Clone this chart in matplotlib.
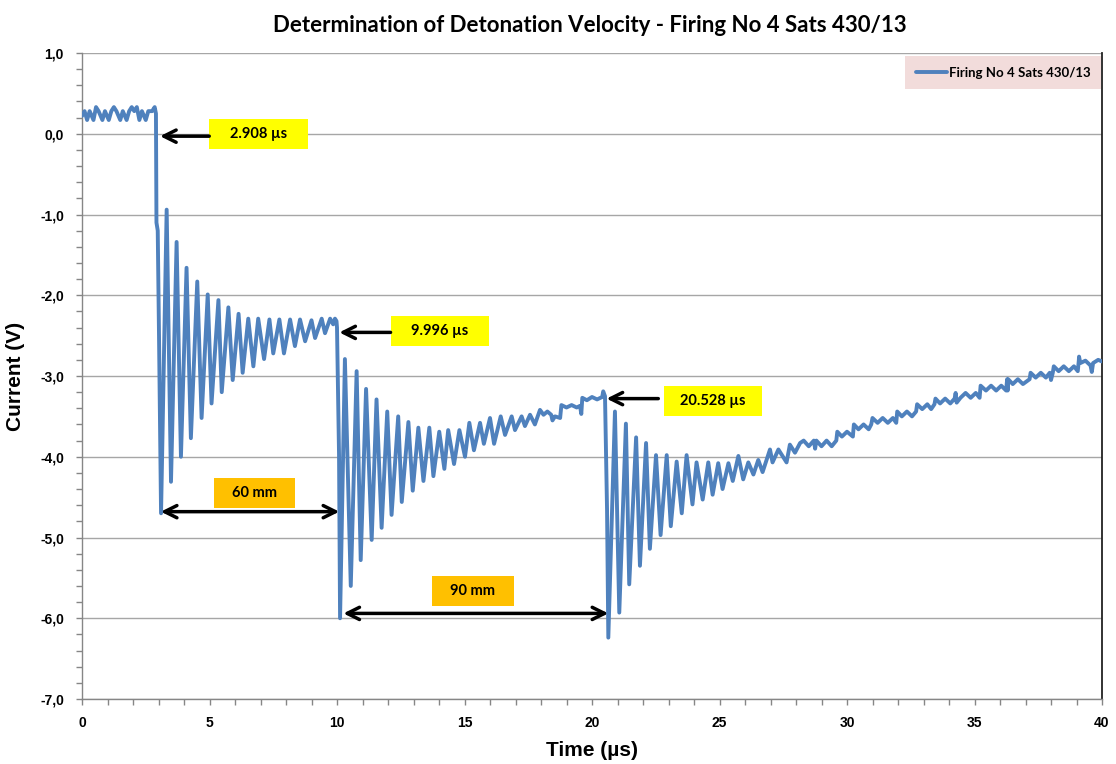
import numpy as np
import matplotlib
matplotlib.use("Agg")
import matplotlib.pyplot as plt
from matplotlib.patches import Rectangle

# ---------------- data ----------------
series_name = "Firing No 4 Sats 430/13"

t_base = [0.00, 0.10, 0.20, 0.30, 0.45, 0.55, 0.65, 0.80, 0.90, 1.05, 1.15, 1.25, 1.35, 1.50,
          1.60, 1.75, 1.85, 1.95, 2.05, 2.15, 2.25, 2.35, 2.50, 2.60, 2.75, 2.85, 2.90]
v_base = [0.22, 0.28, 0.17, 0.28, 0.17, 0.33, 0.28, 0.17, 0.28, 0.17, 0.28, 0.33, 0.28, 0.17,
          0.28, 0.17, 0.28, 0.33, 0.28, 0.33, 0.17, 0.28, 0.17, 0.28, 0.28, 0.33, 0.25]

t_ring1 = [2.92, 2.97, 3.02, 3.10, 3.32, 3.49, 3.71, 3.88, 4.10, 4.27, 4.52, 4.69, 4.93, 5.08,
           5.35, 5.48, 5.74, 5.91, 6.14, 6.30, 6.52, 6.72, 6.91, 7.14, 7.35, 7.50, 7.74, 7.92,
           8.16, 8.35, 8.55, 8.75, 9.00, 9.14, 9.40, 9.53, 9.73, 9.85, 9.92]
v_ring1 = [-1.10, -1.20, -2.50, -4.70, -0.94, -4.31, -1.34, -4.00, -1.66, -3.77, -1.83, -3.52,
           -1.99, -3.34, -2.06, -3.20, -2.15, -3.05, -2.23, -2.96, -2.29, -2.88, -2.29, -2.79,
           -2.30, -2.72, -2.30, -2.72, -2.30, -2.63, -2.30, -2.57, -2.31, -2.53, -2.29, -2.47,
           -2.29, -2.36, -2.29]

t_ring2 = [9.98, 10.00, 10.08, 10.12, 10.31, 10.54, 10.77, 10.93, 11.14, 11.36, 11.55, 11.75,
           11.97, 12.14, 12.40, 12.54, 12.80, 12.97, 13.19, 13.39, 13.62, 13.78, 14.01, 14.21,
           14.36, 14.59, 14.80, 15.02, 15.19, 15.37, 15.61, 15.76, 16.00, 16.16, 16.42, 16.59,
           16.85, 16.98, 17.24, 17.37, 17.57, 17.76, 17.96]
v_ring2 = [-2.32, -2.40, -3.98, -6.00, -2.79, -5.60, -2.94, -5.28, -3.16, -5.03, -3.29, -4.88,
           -3.44, -4.72, -3.50, -4.56, -3.57, -4.42, -3.64, -4.30, -3.64, -4.24, -3.69, -4.15,
           -3.67, -4.09, -3.67, -4.00, -3.58, -3.92, -3.58, -3.84, -3.52, -3.84, -3.50, -3.73,
           -3.50, -3.67, -3.50, -3.62, -3.48, -3.60, -3.42]

t_plateau = [18.10, 18.25, 18.40, 18.45, 18.55, 18.75, 18.80, 19.00, 19.20, 19.40, 19.53,
             19.58, 19.62, 19.80, 20.00, 20.20, 20.40, 20.44]
v_plateau = [-3.48, -3.44, -3.48, -3.55, -3.50, -3.52, -3.36, -3.39, -3.36, -3.39, -3.37,
             -3.47, -3.27, -3.30, -3.26, -3.29, -3.26, -3.19]

t_ring3 = [20.51, 20.59, 20.64, 20.90, 21.07, 21.33, 21.46, 21.73, 21.88, 22.12, 22.27, 22.51,
           22.69, 22.93, 23.09, 23.32, 23.52, 23.71, 23.94, 24.10, 24.34, 24.56, 24.73, 24.95,
           25.12, 25.35, 25.52, 25.74, 25.93, 26.13, 26.33, 26.52, 26.69, 26.98, 27.08, 27.31,
           27.63, 27.76, 27.96, 28.16]
v_ring3 = [-3.25, -4.66, -6.24, -3.44, -5.93, -3.59, -5.58, -3.76, -5.35, -3.83, -5.14, -3.98,
           -4.97, -3.98, -4.86, -4.06, -4.70, -3.98, -4.59, -4.07, -4.53, -4.07, -4.47, -4.08,
           -4.40, -4.08, -4.30, -3.99, -4.28, -4.07, -4.22, -4.04, -4.19, -3.91, -4.07, -3.91,
           -4.07, -3.85, -3.95, -3.83]

t_tail = [28.30, 28.50, 28.70, 28.75, 28.80, 29.00, 29.20, 29.40, 29.58,
          29.62, 29.80, 30.00, 30.23,
          30.27, 30.45, 30.65, 30.85, 30.95,
          31.00, 31.20, 31.40, 31.60, 31.80, 31.93,
          31.97, 32.15, 32.35, 32.55, 32.71,
          32.75, 32.95, 33.15, 33.30, 33.43,
          33.47, 33.65, 33.85, 34.05, 34.22,
          34.26, 34.30, 34.45, 34.65, 34.85, 35.05, 35.20,
          35.24, 35.45, 35.65, 35.85, 36.05, 36.24,
          36.28, 36.30, 36.32, 36.50, 36.70, 36.90, 37.16,
          37.20, 37.40, 37.60, 37.80, 37.95, 38.00, 38.07,
          38.11, 38.30, 38.50, 38.70, 38.90, 39.05,
          39.09, 39.10, 39.15, 39.35, 39.55, 39.60, 39.65, 39.85, 40.00]
v_tail = [-3.80, -3.87, -3.80, -3.90, -3.80, -3.87, -3.80, -3.87, -3.80,
          -3.69, -3.75, -3.69, -3.75,
          -3.60, -3.66, -3.60, -3.66, -3.60,
          -3.52, -3.58, -3.52, -3.58, -3.52, -3.58,
          -3.44, -3.50, -3.44, -3.50, -3.44,
          -3.35, -3.41, -3.35, -3.41, -3.35,
          -3.28, -3.34, -3.28, -3.34, -3.28,
          -3.21, -3.33, -3.27, -3.21, -3.27, -3.21, -3.27,
          -3.12, -3.18, -3.12, -3.18, -3.12, -3.18,
          -3.04, -3.18, -3.04, -3.10, -3.04, -3.10, -3.04,
          -2.96, -3.02, -2.96, -3.02, -2.96, -3.05, -2.96,
          -2.88, -2.94, -2.88, -2.94, -2.88, -2.94,
          -2.81, -2.76, -2.84, -2.81, -2.87, -2.95, -2.84, -2.80, -2.82]

# annotations
time_labels = ["2.908 µs", "9.996 µs", "20.528 µs"]
time_box_t = [6.92, 14.03, 24.75]
time_box_v = [0.0, -2.445, -3.315]
time_head_t = [3.06, 10.09, 20.57]
time_head_v = [-0.03, -2.46, -3.28]
time_tail_t = [4.99, 12.10, 22.60]

dist_labels = ["60 mm", "90 mm"]
dist_box_t = [6.77, 15.33]
dist_box_v = [-4.45, -5.665]
dist_left_t = [3.09, 10.25]
dist_right_t = [10.09, 20.64]
dist_arrow_v = [-4.68, -5.94]

x_ticks = [0, 5, 10, 15, 20, 25, 30, 35, 40]
y_ticks = [1.0, 0.0, -1.0, -2.0, -3.0, -4.0, -5.0, -6.0, -7.0]

# ---------------- plotting ----------------
t_all = t_base + t_ring1 + t_ring2 + t_plateau + t_ring3 + t_tail
v_all = v_base + v_ring1 + v_ring2 + v_plateau + v_ring3 + v_tail

W, H = 1116, 764
fig = plt.figure(figsize=(W / 100, H / 100), dpi=100)
fig.patch.set_facecolor("white")
ax = fig.add_axes([82 / W, 65 / H, 1020 / W, 646 / H])

narrow = ["Liberation Sans Narrow", "Liberation Sans", "DejaVu Sans"]
cal = ["Lato", "DejaVu Sans"]

ax.plot(t_all, v_all, color="#4F81BD", lw=2.8, solid_joinstyle="round", solid_capstyle="round",
        label=series_name, zorder=3)

ax.set_xlim(0, 40)
ax.set_ylim(-7, 1)
ax.set_xticks(x_ticks)
ax.set_yticks(y_ticks)
ax.set_xticks(np.arange(0, 41, 1), minor=True)
ax.set_yticks(np.arange(-7, 1.01, 0.2), minor=True)
ax.set_yticklabels([f"{v:.1f}".replace(".", ",") for v in y_ticks])
ax.set_xticklabels([str(x) for x in x_ticks])
for lab in ax.get_xticklabels() + ax.get_yticklabels():
    lab.set_fontfamily(narrow)
    lab.set_fontweight("bold")
    lab.set_fontsize(10)

ax.grid(axis="y", which="major", color="#a6a6a6", lw=1.0, zorder=0)
ax.tick_params(axis="both", which="both", direction="out", color="#868686", length=4, width=1)
ax.tick_params(axis="y", pad=9)
ax.tick_params(axis="x", pad=8)

for s in ["left", "bottom"]:
    ax.spines[s].set_color("#868686")
    ax.spines[s].set_linewidth(1.0)
ax.spines["top"].set_visible(False)
ax.spines["right"].set_color("#222222")
ax.spines["right"].set_linewidth(1.3)

ax.set_xlabel("Time (µs)", fontsize=15, fontweight="bold", family=narrow)
ax.set_ylabel("Current (V)", fontsize=15, fontweight="bold", family=narrow)
ax.xaxis.set_label_coords(0.5, -0.065)
ax.yaxis.set_label_coords(-0.056, 0.5)

fig.text(590 / W, 1 - 25 / H, "Determination of Detonation Velocity - Firing No 4 Sats 430/13",
         ha="center", va="center", fontsize=16, fontweight="bold", family=cal)

leg = ax.legend(loc="upper right", bbox_to_anchor=(1.0, 0.997), frameon=True, fancybox=False,
                facecolor="#F2DCDB", edgecolor="none", framealpha=1, borderaxespad=0.1,
                handlelength=2.4, handletextpad=0.1, borderpad=0.8,
                prop={"family": cal, "weight": "bold", "size": 9.5})

# time annotations
box_w_time, box_h = 3.86, 0.37
for lab, bt, bv, ht, hv, tt in zip(time_labels, time_box_t, time_box_v, time_head_t, time_head_v, time_tail_t):
    ax.add_patch(Rectangle((bt - box_w_time / 2, bv - box_h / 2), box_w_time, box_h,
                           facecolor="#FFFF00", edgecolor="none", zorder=5))
    ax.text(bt, bv, lab, ha="center", va="center", fontsize=10.5, fontweight="bold",
            family=cal, zorder=6)
    ax.annotate("", xy=(ht, hv), xytext=(tt, hv),
                arrowprops=dict(arrowstyle="->", lw=2.5, color="black", mutation_scale=22,
                                shrinkA=0, shrinkB=0), zorder=6)

box_w_dist = 3.2
for lab, bt, bv, lt, rt, av in zip(dist_labels, dist_box_t, dist_box_v, dist_left_t, dist_right_t, dist_arrow_v):
    ax.add_patch(Rectangle((bt - box_w_dist / 2, bv - box_h / 2), box_w_dist, box_h,
                           facecolor="#FFC000", edgecolor="none", zorder=5))
    ax.text(bt, bv, lab, ha="center", va="center", fontsize=10.5, fontweight="bold",
            family=cal, zorder=6)
    ax.annotate("", xy=(rt, av), xytext=(lt, av),
                arrowprops=dict(arrowstyle="<->", lw=2.5, color="black", mutation_scale=22,
                                shrinkA=0, shrinkB=0), zorder=6)

fig.savefig("out.png", dpi=100)
